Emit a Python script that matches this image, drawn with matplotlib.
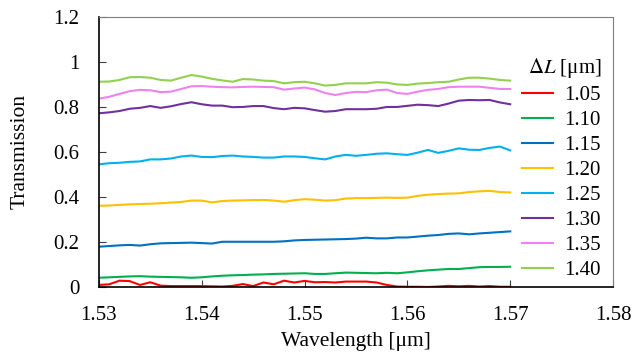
import numpy as np
import matplotlib
matplotlib.use('Agg')
import matplotlib.pyplot as plt

plt.rcParams['font.family'] = ['Liberation Serif', 'DejaVu Serif']
plt.rcParams['mathtext.fontset'] = 'stix'

wavelength = np.round(np.arange(1.530, 1.5705, 0.001), 3)

labels = ['1.05', '1.10', '1.15', '1.20', '1.25', '1.30', '1.35', '1.40']
colors = ['#FF0000', '#00B050', '#0070C0', '#FFC000', '#00B0F0', '#7030A0', '#EE82EE', '#92D050']

t105 = [0.009, 0.012, 0.028, 0.026, 0.009, 0.021, 0.006, 0.004, 0.004, 0.004, 0.004,
        0.003, 0.002, 0.005, 0.013, 0.004, 0.020, 0.012, 0.028, 0.020, 0.027,
        0.021, 0.022, 0.020, 0.024, 0.024, 0.024, 0.020, 0.009, 0.002, 0.001,
        0.001, 0.000, 0.002, 0.005, 0.003, 0.005, 0.002, 0.004, 0.001, 0.001]
t110 = [0.041, 0.043, 0.045, 0.047, 0.048, 0.046, 0.045, 0.044, 0.043, 0.041, 0.043,
        0.047, 0.050, 0.052, 0.053, 0.055, 0.056, 0.058, 0.059, 0.060, 0.061,
        0.058, 0.058, 0.061, 0.064, 0.063, 0.062, 0.061, 0.063, 0.061, 0.065,
        0.070, 0.074, 0.077, 0.080, 0.080, 0.084, 0.088, 0.089, 0.089, 0.090]
t115 = [0.179, 0.182, 0.185, 0.187, 0.184, 0.190, 0.194, 0.195, 0.196, 0.197, 0.195,
        0.193, 0.201, 0.201, 0.201, 0.201, 0.201, 0.201, 0.203, 0.207, 0.209,
        0.210, 0.211, 0.212, 0.213, 0.215, 0.219, 0.216, 0.216, 0.220, 0.220,
        0.224, 0.228, 0.231, 0.236, 0.238, 0.234, 0.238, 0.241, 0.244, 0.247]
t120 = [0.361, 0.362, 0.365, 0.367, 0.369, 0.370, 0.372, 0.375, 0.378, 0.384, 0.384,
        0.376, 0.382, 0.384, 0.385, 0.386, 0.387, 0.384, 0.379, 0.386, 0.390,
        0.388, 0.384, 0.386, 0.393, 0.395, 0.395, 0.396, 0.397, 0.396, 0.397,
        0.405, 0.410, 0.413, 0.415, 0.416, 0.422, 0.425, 0.427, 0.422, 0.420]
t125 = [0.545, 0.550, 0.552, 0.556, 0.558, 0.567, 0.567, 0.571, 0.580, 0.584, 0.578,
        0.577, 0.582, 0.584, 0.580, 0.578, 0.575, 0.575, 0.580, 0.580, 0.578,
        0.572, 0.567, 0.580, 0.587, 0.583, 0.587, 0.592, 0.594, 0.590, 0.587,
        0.597, 0.609, 0.596, 0.605, 0.616, 0.610, 0.609, 0.618, 0.624, 0.607]
t130 = [0.772, 0.776, 0.782, 0.792, 0.796, 0.804, 0.796, 0.803, 0.813, 0.821, 0.812,
        0.806, 0.806, 0.799, 0.800, 0.804, 0.804, 0.795, 0.790, 0.796, 0.794,
        0.786, 0.779, 0.782, 0.790, 0.790, 0.790, 0.792, 0.800, 0.800, 0.805,
        0.810, 0.808, 0.804, 0.815, 0.828, 0.831, 0.830, 0.831, 0.820, 0.812]
t135 = [0.837, 0.845, 0.858, 0.870, 0.876, 0.874, 0.866, 0.868, 0.880, 0.892, 0.893,
        0.890, 0.888, 0.887, 0.889, 0.890, 0.889, 0.888, 0.877, 0.882, 0.886,
        0.878, 0.862, 0.853, 0.862, 0.867, 0.866, 0.874, 0.877, 0.862, 0.858,
        0.868, 0.876, 0.880, 0.888, 0.890, 0.890, 0.890, 0.885, 0.880, 0.880]
t140 = [0.912, 0.913, 0.920, 0.932, 0.933, 0.930, 0.920, 0.917, 0.930, 0.942, 0.935,
        0.925, 0.918, 0.912, 0.924, 0.922, 0.917, 0.915, 0.905, 0.910, 0.912,
        0.905, 0.895, 0.898, 0.905, 0.905, 0.905, 0.910, 0.908, 0.900, 0.898,
        0.904, 0.906, 0.910, 0.912, 0.922, 0.930, 0.930, 0.926, 0.920, 0.917]

series = [t105, t110, t115, t120, t125, t130, t135, t140]

fig = plt.figure(figsize=(6.34, 3.53), dpi=100)
ax = fig.add_axes([0.156, 0.187, 0.811, 0.765])

for vals, lab, col in zip(series, labels, colors):
    ax.plot(wavelength, vals, color=col, lw=1.5, label=lab)

ax.set_xlim(1.53, 1.58)
ax.set_ylim(0, 1.2)
ax.set_xticks([1.53, 1.54, 1.55, 1.56, 1.57, 1.58])
ax.set_xticklabels(['1.53', '1.54', '1.55', '1.56', '1.57', '1.58'])
ax.set_yticks([0, 0.2, 0.4, 0.6, 0.8, 1.0, 1.2])
ax.set_yticklabels(['0', '0.2', '0.4', '0.6', '0.8', '1', '1.2'])
ax.tick_params(direction='in', labelsize=15, length=5, width=0.8, color='#404040')
ax.tick_params(axis='x', pad=13.5)
ax.tick_params(axis='y', pad=14)

for s in ['top', 'right']:
    ax.spines[s].set_color('#7f7f7f')
    ax.spines[s].set_linewidth(0.8)
for s in ['left', 'bottom']:
    ax.spines[s].set_color('black')
    ax.spines[s].set_linewidth(1.2)

ax.set_xlabel('Wavelength [\u03bcm]', fontsize=15.5, labelpad=5)
ax.set_ylabel('Transmission', fontsize=15.5, labelpad=17)

leg = ax.legend(loc='upper right', bbox_to_anchor=(0.977, 0.855), frameon=False,
                fontsize=15, title='$\\Delta L$ [\u03bcm]', title_fontsize=15,
                handlelength=1.5, handletextpad=0.55, labelspacing=0.26,
                borderaxespad=0, borderpad=0)
leg._legend_box.align = 'right'
leg._legend_box.sep = 4

fig.savefig('out.png', dpi=100)
